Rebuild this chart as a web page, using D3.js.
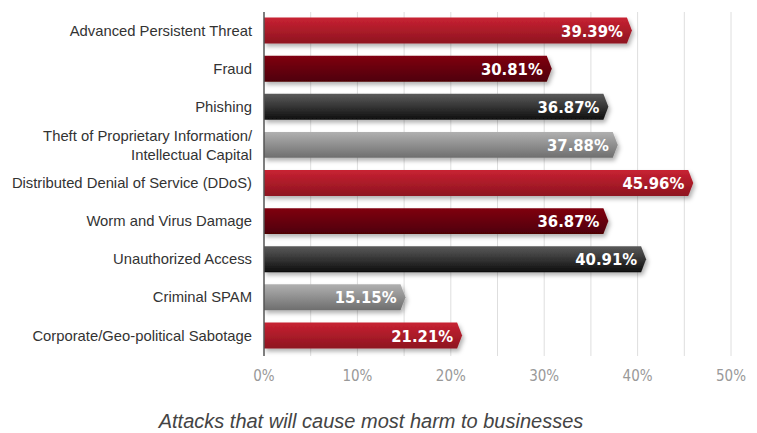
<!DOCTYPE html>
<html>
<head>
<meta charset="utf-8">
<script src="https://cdn.jsdelivr.net/npm/d3@7"></script>
<style>
  body { margin: 0; background: #fff; }
  svg { display: block; }
</style>
</head>
<body>
<svg id="chart"></svg>
<script>
// Chart data
const categories = [
    "Advanced Persistent Threat",
    "Fraud",
    "Phishing",
    "Theft of Proprietary Information/\nIntellectual Capital",
    "Distributed Denial of Service (DDoS)",
    "Worm and Virus Damage",
    "Unauthorized Access",
    "Criminal SPAM",
    "Corporate/Geo-political Sabotage"
];
const values = [39.39, 30.81, 36.87, 37.88, 45.96, 36.87, 40.91, 15.15, 21.21];
const barStyles = ["red", "darkred", "black", "gray", "red", "darkred", "black", "gray", "red"];
const tickValues = [0, 10, 20, 30, 40, 50];
const caption = "Attacks that will cause most harm to businesses";

const width = 757;
const height = 433;

const svg = d3.select("#chart")
    .attr("width", width)
    .attr("height", height);

// Gradients for bar colours
const gradients = {
    red: ["#c82232", "#8e1420"],
    darkred: ["#800412", "#4e0006"],
    black: ["#5a5a5a", "#0e0e0e"],
    gray: ["#b0b0b0", "#6e6e6e"]
};
const defs = svg.append("defs");
Object.entries(gradients).forEach(([name, c]) => {
    const g = defs.append("linearGradient")
        .attr("id", "grad-" + name)
        .attr("x1", 0).attr("y1", 0).attr("x2", 0).attr("y2", 1);
    g.append("stop").attr("offset", "0%").attr("stop-color", c[0]);
    g.append("stop").attr("offset", "100%").attr("stop-color", c[1]);
});
const shadow = defs.append("filter").attr("id", "shadow")
    .attr("x", "-5%").attr("y", "-30%").attr("width", "115%").attr("height", "180%");
shadow.append("feDropShadow")
    .attr("dx", 2).attr("dy", 3).attr("stdDeviation", 2)
    .attr("flood-color", "#000").attr("flood-opacity", 0.3);

// Scales
const x = d3.scaleLinear().domain([0, 50]).range([264, 731]);
const y = d3.scaleBand().domain(categories).range([10, 356])
    .paddingInner(0.32).paddingOuter(0.2);

// Gridlines every 5%
svg.append("g")
    .selectAll("line")
    .data(d3.range(5, 55, 5))
    .join("line")
    .attr("x1", d => x(d)).attr("x2", d => x(d))
    .attr("y1", 12).attr("y2", 356)
    .attr("stroke", "#dedede")
    .attr("stroke-width", 1);

// Bars with arrow tip
const tip = 5;
svg.append("g")
    .selectAll("path")
    .data(values)
    .join("path")
    .attr("d", (d, i) => {
        const x0 = x(0), x1 = x(d);
        const y0 = y(categories[i]), h = y.bandwidth();
        return `M${x0},${y0} L${x1 - tip},${y0} L${x1},${y0 + h / 2} L${x1 - tip},${y0 + h} L${x0},${y0 + h} Z`;
    })
    .attr("fill", (d, i) => `url(#grad-${barStyles[i]})`)
    .attr("filter", "url(#shadow)");

// Value labels
svg.append("g")
    .selectAll("text")
    .data(values)
    .join("text")
    .attr("x", d => x(d) - 9)
    .attr("y", (d, i) => y(categories[i]) + y.bandwidth() / 2)
    .attr("dy", "0.37em")
    .attr("text-anchor", "end")
    .attr("fill", "#fff")
    .style("font-family", "'DejaVu Sans', sans-serif")
    .style("font-stretch", "condensed")
    .style("font-weight", "bold")
    .style("font-size", "16.5px")
    .text(d => d.toFixed(2) + "%");

// Vertical axis line
svg.append("line")
    .attr("x1", x(0)).attr("x2", x(0))
    .attr("y1", 12).attr("y2", 356)
    .attr("stroke", "#555")
    .attr("stroke-width", 1.5);

// Category labels
const catLabels = svg.append("g")
    .selectAll("text")
    .data(categories)
    .join("text")
    .attr("text-anchor", "end")
    .attr("fill", "#333")
    .style("font-family", "'Liberation Sans', Arial, sans-serif")
    .style("font-size", "14.8px");
catLabels.each(function(d) {
    const lines = d.split("\n");
    const cy = y(d) + y.bandwidth() / 2;
    const lh = 19;
    d3.select(this).selectAll("tspan")
        .data(lines)
        .join("tspan")
        .attr("x", 252)
        .attr("y", (l, j) => cy + (j - (lines.length - 1) / 2) * lh)
        .attr("dy", "0.35em")
        .text(l => l);
});

// X axis tick labels
svg.append("g")
    .selectAll("text")
    .data(tickValues)
    .join("text")
    .attr("x", d => x(d))
    .attr("y", 376)
    .attr("dy", "0.35em")
    .attr("text-anchor", "middle")
    .attr("fill", "#999")
    .style("font-family", "'DejaVu Sans', sans-serif")
    .style("font-stretch", "condensed")
    .style("font-size", "15px")
    .text(d => d + "%");

// Caption
svg.append("text")
    .attr("x", 371)
    .attr("y", 421)
    .attr("dy", "0.35em")
    .attr("text-anchor", "middle")
    .attr("fill", "#444")
    .style("font-family", "'Liberation Sans', Arial, sans-serif")
    .style("font-style", "italic")
    .style("font-size", "20px")
    .text(caption);
</script>
</body>
</html>
